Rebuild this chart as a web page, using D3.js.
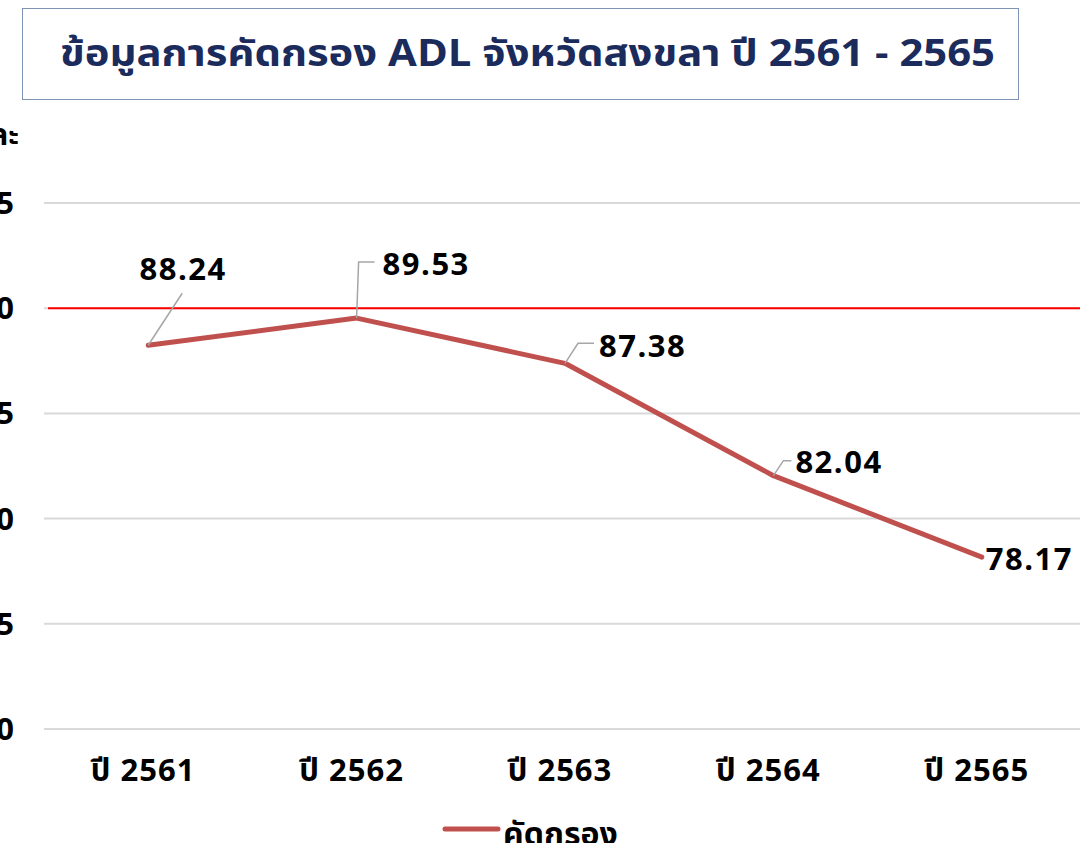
<!DOCTYPE html>
<html>
  <head>
    <meta charset="utf-8" />
    <script src="https://d3js.org/d3.v7.min.js"></script>
    <style>
      body { margin: 0; background: #fff; }
      svg { display: block; }
      text { font-family: "Noto Sans Thai", "Tahoma", "Noto Sans", "DejaVu Sans", sans-serif; }
    </style>
  </head>
  <body>
    <svg id="viz"></svg>
    <script>
      var years = ["ปี 2561", "ปี 2562", "ปี 2563", "ปี 2564", "ปี 2565"];
      var screened = [88.24, 89.53, 87.38, 82.04, 78.17];
      var yTicks = [70, 75, 80, 85, 90, 95];
      var target = 90;
      var seriesName = "คัดกรอง";
      var title = "ข้อมูลการคัดกรอง ADL จังหวัดสงขลา ปี 2561 - 2565";
      var yTitle = "ร้อยละ";

      var width = 1080, height = 843;
      var svg = d3.select("#viz").attr("width", width).attr("height", height);

      // title box
      svg.append("rect")
        .attr("x", 22.5).attr("y", 8.5).attr("width", 996).attr("height", 91)
        .attr("fill", "#fff").attr("stroke", "#7f93b5").attr("stroke-width", 1);
      svg.append("text")
        .attr("x", 60).attr("y", 66)
        .attr("textLength", 935).attr("lengthAdjust", "spacingAndGlyphs")
        .attr("font-size", 37).attr("font-weight", "bold")
        .attr("fill", "#1b2b5c")
        .text(title);

      var x = d3.scalePoint().domain(years).range([44, 1086]).padding(0.5);
      var y = d3.scaleLinear().domain([70, 95]).range([729, 203]);

      // gridlines
      svg.append("g").selectAll("line").data(yTicks).enter().append("line")
        .attr("x1", 44).attr("x2", width)
        .attr("y1", function(d) { return y(d); }).attr("y2", function(d) { return y(d); })
        .attr("stroke", "#d9d9d9").attr("stroke-width", 2);

      // y tick labels (partly cut by the left edge, as in the source)
      svg.append("g").selectAll("text").data(yTicks).enter().append("text")
        .attr("x", 16).attr("y", function(d) { return y(d) + 11; })
        .attr("text-anchor", "end")
        .attr("font-size", 31).attr("font-weight", "bold").attr("fill", "#000")
        .attr("letter-spacing", 2)
        .text(function(d) { return d; });

      svg.append("text")
        .attr("x", 19).attr("y", 145)
        .attr("text-anchor", "end")
        .attr("font-size", 30).attr("font-weight", "bold").attr("fill", "#000")
        .text(yTitle);

      // target line
      svg.append("line")
        .attr("x1", 48).attr("x2", width)
        .attr("y1", y(target)).attr("y2", y(target))
        .attr("stroke", "#ff0000").attr("stroke-width", 2);

      // x labels
      svg.append("g").selectAll("text").data(years).enter().append("text")
        .attr("x", function(d) { return x(d) - 5; }).attr("y", 781)
        .attr("text-anchor", "middle")
        .attr("font-size", 31).attr("font-weight", "bold").attr("fill", "#000")
        .attr("letter-spacing", 1)
        .text(function(d) { return d; });

      var pts = years.map(function(d, i) { return [x(d), y(screened[i])]; });

      svg.append("path")
        .attr("d", d3.line()(pts))
        .attr("fill", "none").attr("stroke", "#c0504d")
        .attr("stroke-width", 5).attr("stroke-linejoin", "round").attr("stroke-linecap", "round");

      // data labels with leader lines: [dx, dy] offsets of the label from its point
      var labelOff = [[35, -65], [26, -43], [34, -6], [22, -3], [4, 13]];
      var leaders = [
        [[0, 0], [34, -52]],
        [[0, 0], [2, -56], [18, -56]],
        [[0, 0], [13, -20], [29, -20]],
        [[0, 0], [10, -15], [18, -15]],
        null
      ];
      pts.forEach(function(p, i) {
        if (leaders[i]) {
          svg.append("path")
            .attr("d", d3.line()(leaders[i].map(function(o) { return [p[0] + o[0], p[1] + o[1]]; })))
            .attr("fill", "none").attr("stroke", "#a6a6a6").attr("stroke-width", 1.5);
        }
        svg.append("text")
          .attr("x", p[0] + labelOff[i][0]).attr("y", p[1] + labelOff[i][1])
          .attr("text-anchor", i === 0 ? "middle" : "start")
          .attr("font-size", 31).attr("font-weight", "bold").attr("fill", "#000")
          .attr("letter-spacing", 1.5)
          .text(screened[i].toFixed(2));
      });

      // legend
      svg.append("line")
        .attr("x1", 445).attr("x2", 498).attr("y1", 829).attr("y2", 829)
        .attr("stroke", "#c0504d").attr("stroke-width", 5).attr("stroke-linecap", "round");
      svg.append("text")
        .attr("x", 503).attr("y", 845)
        .attr("font-size", 32).attr("font-weight", "bold").attr("fill", "#000")
        .text(seriesName);
    </script>
  </body>
</html>
